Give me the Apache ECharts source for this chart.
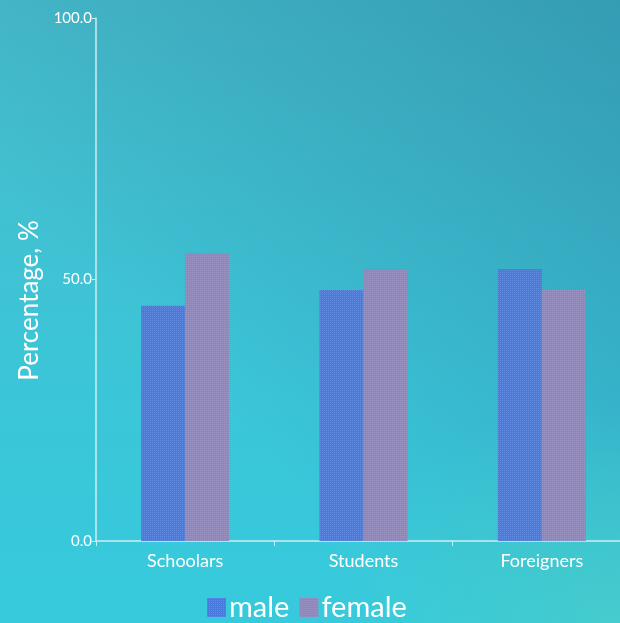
<!DOCTYPE html>
<html>
<head>
<meta charset="utf-8">
<script src="https://cdn.jsdelivr.net/npm/echarts@6/dist/echarts.min.js"></script>
<style>
html,body{margin:0;padding:0;overflow:hidden;width:620px;height:623px;}
#wrap{width:620px;height:623px;overflow:hidden;
background:
 radial-gradient(ellipse 300px 220px at 620px 623px, rgba(72,206,204,0.85) 0%, rgba(72,206,204,0) 100%),
 linear-gradient(225deg, rgba(40,135,165,0.6) 0%, rgba(40,140,170,0) 65%),
 linear-gradient(180deg, #47bccb 0%, #3cc5d8 60%, #36cadd 100%);
}
#chart{width:640px;height:623px;}
</style>
</head>
<body>
<div id="wrap"><div id="chart"></div></div>
<script>
const categories = ['Schoolars', 'Students', 'Foreigners'];
const maleValues = [45, 48, 52];
const femaleValues = [55, 52, 48];
const yTicks = [0, 50, 100];

const chart = echarts.init(document.getElementById('chart'));
const font = 'Lato';
const decal = {
  symbol: 'rect',
  symbolSize: 1,
  dashArrayX: [1, 1],
  dashArrayY: [1, 1],
  rotation: 0,
  color: 'rgba(255,255,255,0.12)'
};
chart.setOption({
  backgroundColor: 'transparent',
  textStyle: { fontFamily: font },
  grid: { left: 96, right: 9, top: 18, bottom: 82, containLabel: false },
  legend: {
    bottom: -4,
    left: 202,
    itemWidth: 19,
    itemHeight: 19,
    itemGap: 10,
    icon: 'rect',
    textStyle: { color: '#ffffff', fontSize: 29, fontFamily: font, padding: [0, 0, 0, -2] },
    data: ['male', 'female']
  },
  xAxis: {
    type: 'category',
    data: categories,
    axisLine: { lineStyle: { color: '#cdeef2', width: 1.5 } },
    axisTick: { show: true, length: 5, lineStyle: { color: '#cdeef2' } },
    axisLabel: { color: '#ffffff', fontSize: 18, margin: 11, fontFamily: font }
  },
  yAxis: {
    type: 'value',
    min: yTicks[0],
    max: yTicks[yTicks.length - 1],
    interval: 50,
    name: 'Percentage, %',
    nameLocation: 'middle',
    nameGap: 50,
    nameTextStyle: { color: '#ffffff', fontSize: 26, fontFamily: font, padding: [0, 42, 0, 0] },
    axisLine: { show: true, lineStyle: { color: '#cdeef2', width: 1.5 } },
    axisTick: { show: true, length: 4, lineStyle: { color: '#cdeef2' } },
    splitLine: { show: false },
    axisLabel: { color: '#ffffff', fontSize: 15, margin: 4, fontFamily: font,
      formatter: v => v.toFixed(1) }
  },
  series: [
    { name: 'male', type: 'bar', data: maleValues, barWidth: 44, barGap: '0%',
      itemStyle: { color: '#4a7bdc', decal: decal } },
    { name: 'female', type: 'bar', data: femaleValues, barWidth: 44, barGap: '0%',
      itemStyle: { color: '#8f86ba', decal: decal } }
  ]
});
</script>
</body>
</html>
